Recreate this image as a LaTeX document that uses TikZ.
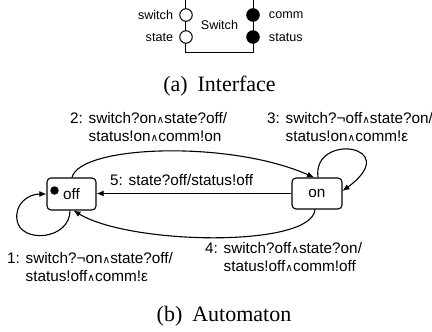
\documentclass[tikz,border=0pt]{standalone}
\usepackage{fontspec}
\setmainfont{Liberation Sans}
\newfontfamily\serifcap{Liberation Serif}
\newfontfamily\djv{DejaVu Sans}
\usetikzlibrary{arrows.meta,calc}
\newcommand\wand{{\djv\fontsize{10.5}{10.5}\selectfont ∧}}
\begin{document}
\begin{tikzpicture}[x=1pt,y=-1pt,
  lab/.style={font=\fontsize{15.3}{18}\selectfont, inner sep=0pt, align=left},
  ifl/.style={font=\fontsize{12.6}{14}\selectfont, inner sep=0pt},
  capt/.style={font=\serifcap\fontsize{22}{24}\selectfont, inner sep=0pt},
  stbox/.style={draw, line width=1.1pt, rounded corners=4pt, minimum width=49pt, minimum height=32pt, inner sep=0pt, font=\fontsize{15.3}{17}\selectfont},
  port/.style={circle, draw, line width=1pt, minimum size=12.5pt, inner sep=0pt},
  trans/.style={line width=1.1pt, -{Latex[length=7pt,width=6pt]}},
]
\useasboundingbox (0,0) rectangle (432,332);
% Interface
\node[ifl, minimum width=67pt, minimum height=54pt] (sw) at (219.5,25) {Switch};
\draw[line width=1.1pt] (sw.north west) -- (sw.south west) -- (sw.south east) -- (sw.north east);
\node[port, fill=white] (pswitch) at (186,15) {};
\node[port, fill=white] (pstate) at (186,37) {};
\node[port, fill=black] (pcomm) at (253,15) {};
\node[port, fill=black] (pstatus) at (253,37) {};
\node[ifl, anchor=east] (lswitch) at ($(pswitch.west)+(-6,0)$) {switch};
\node[ifl, anchor=east] (lstate) at ($(pstate.west)+(-6,0)$) {state};
\node[ifl, anchor=west] (lcomm) at ($(pcomm.east)+(9,0)$) {comm};
\node[ifl, anchor=west] (lstatus) at ($(pstatus.east)+(9,0)$) {status};
\node[capt] (capa) at (219.5,86) {(a)\hspace{0.45em}Interface};
% Automaton
\node[stbox] (off) at (71.5,194) {off};
\node[stbox, minimum width=50pt, minimum height=31pt] (on) at (317,193.5) {on};
\node[circle, fill=black, minimum size=8.5pt, inner sep=0pt] (init) at (54.5,190.5) {};
\draw[trans] (on.west) -- (on.west -| off.east);
\draw[trans] ($(off.north)+(0.5,0)$) .. controls (80,145) and (230,140) .. ($(on.north)+(-3,0)$);
\draw[trans] ($(on.north)+(1,0)$) .. controls (312,132) and (405,145) .. ($(on.east)+(0,-2.5)$);
\draw[trans] ($(on.south)+(-2,0)$) .. controls (312,248) and (130,245) .. ($(off.south)+(2,0)$);
\draw[trans] ($(off.south)+(-1.5,0)$) .. controls (70,240) and (20.6,244) .. (17,220) .. controls (14.6,204) and (28,194) .. (off.west);
\node[lab, anchor=north west] (l2) at (70,112) {2: switch?on\wand state?off/\\\phantom{2: }status!on\wand comm!on};
\node[lab, anchor=north west] (l3) at (267,112) {3: switch?¬off\wand state?on/\\\phantom{3: }status!on\wand comm!ε};
\node[lab, anchor=north west] (l4) at (205,242) {4: switch?off\wand state?on/\\\phantom{4: }status!off\wand comm!off};
\node[lab, anchor=north west] (l1) at (7,252) {1: switch?¬on\wand state?off/\\\phantom{1: }status!off\wand comm!ε};
\node[lab, anchor=base west] (l5) at (110,185) {5: state?off/status!off};
\node[capt] (capb) at (224,316) {(b)\hspace{0.45em}Automaton};
\end{tikzpicture}
\end{document}
